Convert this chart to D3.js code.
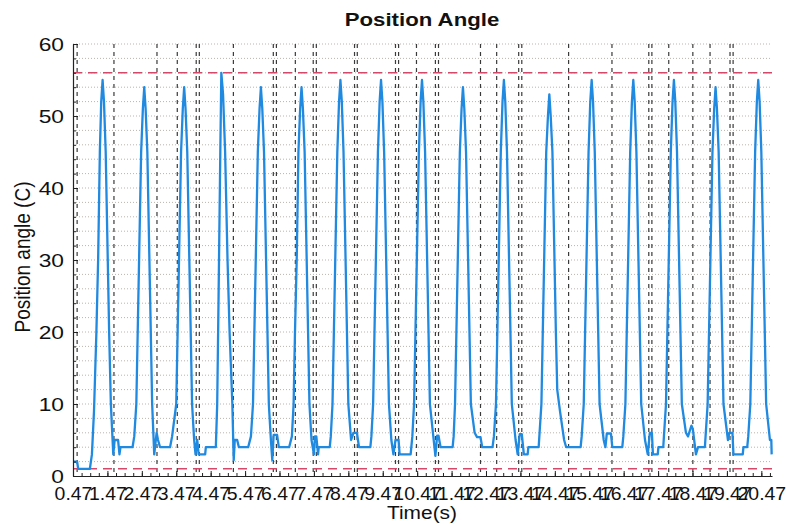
<!DOCTYPE html>
<html>
<head>
<meta charset="utf-8">
<script src="https://cdn.jsdelivr.net/npm/d3@7"></script>
<style>
  html, body { margin: 0; padding: 0; background: #fff; }
  svg { display: block; }
  text { font-family: "Liberation Sans", Arial, Helvetica, sans-serif; fill: #111; }
</style>
</head>
<body>
<svg id="chart" width="786" height="524"></svg>
<script>
// Position angle trace: [time (s), angle (C)]
const angleTrace = [
  [0.47,2],[0.59,2],[0.62,1],[0.96,1],[1.02,3],[1.08,9],[1.15,20],[1.20,30],[1.25,45],[1.29,52],[1.33,55],[1.37,52],[1.42,45],[1.48,30],[1.52,20],[1.57,10],[1.62,5],
  [1.64,3],[1.68,5],[1.78,5],[1.82,3],[1.85,4],[2.20,4],[2.25,5.5],
  [2.31,10],[2.35,20],[2.39,30],[2.45,45],[2.50,51],[2.54,54],[2.58,51],[2.63,45],[2.69,30],[2.73,20],[2.77,10],
  [2.83,3],[2.90,6],[2.94,5],[3.00,4],[3.29,4],[3.35,5.5],
  [3.47,10],[3.51,20],[3.55,30],[3.61,45],[3.66,51],[3.70,54],[3.74,51],[3.79,45],[3.85,30],[3.89,20],[3.93,10],
  [3.99,5],[4.03,3],[4.08,5],[4.12,3],[4.31,3],[4.33,4],[4.62,4],
  [4.66,10],[4.70,25],[4.75,45],[4.78,56],[4.83,53],[4.89,45],[4.96,30],[5.02,20],[5.10,10],[5.13,4],[5.14,2.2],[5.17,5],[5.24,5],[5.29,4],[5.56,4],[5.64,5.5],
  [5.70,10],[5.74,20],[5.78,30],[5.84,45],[5.89,51],[5.93,54],[5.97,51],[6.02,45],[6.08,30],[6.12,20],[6.16,10],
  [6.22,5],[6.26,2.2],[6.30,5.7],[6.40,5.7],[6.45,4],[6.75,4],[6.83,5.5],
  [6.88,10],[6.92,20],[6.97,30],[7.02,45],[7.07,51],[7.11,54],[7.15,51],[7.20,45],[7.26,30],[7.30,20],[7.34,10],
  [7.40,5],[7.47,3],[7.50,5.5],[7.54,5.5],[7.59,3],[7.61,4],[7.93,4],[7.96,5.5],
  [8.01,10],[8.05,20],[8.09,30],[8.15,45],[8.20,52],[8.24,55],[8.28,52],[8.33,45],[8.39,30],[8.43,20],[8.47,10],
  [8.55,5],[8.62,6],[8.72,6],[8.75,5],[8.78,4],[9.11,4],[9.14,5.5],
  [9.19,10],[9.23,20],[9.27,30],[9.33,45],[9.38,52],[9.42,55],[9.46,52],[9.51,45],[9.57,30],[9.61,20],[9.65,10],
  [9.72,5],[9.78,3],[9.84,5],[9.93,5],[9.96,3],[10.28,3],[10.30,4],[10.33,5.5],
  [10.38,10],[10.42,20],[10.46,30],[10.52,45],[10.57,52],[10.61,55],[10.65,52],[10.70,45],[10.76,30],[10.80,20],[10.84,10],
  [10.95,5],[11.00,2.8],[11.05,5.6],[11.09,5.6],[11.15,4],[11.50,4],[11.53,5.5],
  [11.57,10],[11.61,20],[11.65,30],[11.71,45],[11.76,51],[11.80,54],[11.84,51],[11.89,45],[11.95,30],[11.99,20],[12.03,10],
  [12.14,6],[12.21,5.4],[12.31,5.4],[12.36,4],[12.66,4],[12.70,5.5],
  [12.76,10],[12.80,20],[12.84,30],[12.90,45],[12.95,52],[12.99,55],[13.03,52],[13.08,45],[13.14,30],[13.18,20],[13.22,10],
  [13.33,5],[13.39,3],[13.45,5.8],[13.51,5.8],[13.57,3],[13.68,3],[13.70,4],[14.00,4],[14.02,5.5],
  [14.08,10],[14.12,20],[14.16,30],[14.22,45],[14.27,50],[14.31,53],[14.35,50],[14.40,45],[14.46,30],[14.50,20],[14.54,12],[14.62,9],[14.68,7],[14.74,5],[14.80,4],[15.22,4],[15.25,5.5],
  [15.31,10],[15.35,20],[15.39,30],[15.45,45],[15.50,52],[15.54,55],[15.58,52],[15.63,45],[15.69,30],[15.73,20],[15.77,10],
  [15.89,5],[15.94,4],[15.98,5.9],[16.10,5.9],[16.14,4],[16.43,4],[16.46,5.5],
  [16.52,10],[16.56,20],[16.60,30],[16.66,45],[16.71,52],[16.75,55],[16.79,52],[16.84,45],[16.90,30],[16.94,20],[16.98,10],
  [17.09,5],[17.17,3],[17.23,6],[17.29,6],[17.32,3],[17.46,3],[17.48,4],[17.62,4],[17.64,5.5],
  [17.70,10],[17.74,20],[17.78,30],[17.84,45],[17.89,52],[17.93,55],[17.97,52],[18.02,45],[18.08,30],[18.12,20],[18.16,10],
  [18.28,6],[18.34,5.5],[18.44,7],[18.48,6.5],[18.57,3],[18.63,4],[18.83,4],[18.85,5.5],
  [18.91,10],[18.95,20],[18.99,30],[19.05,45],[19.10,51],[19.14,54],[19.18,51],[19.23,45],[19.29,30],[19.33,20],[19.37,10],
  [19.50,5],[19.54,6],[19.63,6],[19.66,3],[19.93,3],[19.95,4],[20.06,4],[20.09,5.5],
  [20.15,10],[20.19,20],[20.23,30],[20.29,45],[20.34,52],[20.38,55],[20.42,52],[20.47,45],[20.53,30],[20.57,20],[20.61,10],
  [20.72,5],[20.76,5],[20.77,3]
];

// Event markers (s)
const eventTimes = [0.59, 1.66, 2.91, 3.50, 4.05, 4.14, 5.13, 6.29, 6.38, 6.93, 7.45, 7.54,
  8.65, 8.73, 9.84, 9.93, 10.45, 11.00, 11.09, 12.31, 12.78, 13.42, 13.51, 14.87,
  16.13, 17.20, 17.29, 17.78, 18.48, 18.98, 19.56, 19.65];

// Upper and lower limit lines (C)
const limitLevels = [56, 1];

// Axis ticks
const xTickValues = [0.47, 1.47, 2.47, 3.47, 4.47, 5.47, 6.47, 7.47, 8.47, 9.47, 10.47,
  11.47, 12.47, 13.47, 14.47, 15.47, 16.47, 17.47, 18.47, 19.47, 20.47];
const yTickValues = [0, 10, 20, 30, 40, 50, 60];
const xDomain = [0.47, 20.78];
const yDomain = [0, 60];

const svg = d3.select("#chart");
const x = d3.scaleLinear().domain(xDomain).range([73, 772]);
const y = d3.scaleLinear().domain(yDomain).range([476, 44]);

// horizontal dotted grid every 2 units
svg.append("g")
  .selectAll("line")
  .data(d3.range(yDomain[0] + 2, yDomain[1] + 1, 2))
  .join("line")
  .attr("x1", x.range()[0]).attr("x2", x.range()[1])
  .attr("y1", d => y(d)).attr("y2", d => y(d))
  .attr("stroke", "#b9b4ae").attr("stroke-width", 1)
  .attr("stroke-dasharray", "1,2");

// event markers
svg.append("g")
  .selectAll("line")
  .data(eventTimes)
  .join("line")
  .attr("x1", d => x(d)).attr("x2", d => x(d))
  .attr("y1", y(yDomain[1])).attr("y2", y(yDomain[0]))
  .attr("stroke", "#3a3a3a").attr("stroke-width", 1.2)
  .attr("stroke-dasharray", "4,4");

// limit lines
svg.append("g")
  .selectAll("line")
  .data(limitLevels)
  .join("line")
  .attr("x1", x.range()[0]).attr("x2", x.range()[1])
  .attr("y1", d => y(d)).attr("y2", d => y(d))
  .attr("stroke", "#d4496a").attr("stroke-width", 1.5)
  .attr("stroke-dasharray", "9,6");

// signal
svg.append("path")
  .datum(angleTrace)
  .attr("fill", "none")
  .attr("stroke", "#2089e0")
  .attr("stroke-width", 2.3)
  .attr("stroke-linejoin", "round")
  .attr("d", d3.line().x(d => x(d[0])).y(d => y(d[1])));

// axes
const axisColor = "#222";
const sxTick = 1.08;

const gxMinor = svg.append("g").attr("transform", `translate(0,${y(0)})`)
  .call(d3.axisBottom(x).tickValues(d3.range(0.72, 20.78, 0.25)).tickFormat("").tickSizeInner(-3).tickSizeOuter(0));
gxMinor.select(".domain").remove();
gxMinor.selectAll("line").attr("stroke", axisColor);

const gx = svg.append("g").attr("transform", `translate(0,${y(0)})`)
  .call(d3.axisBottom(x).tickValues(xTickValues).tickFormat(d3.format(".2f")).tickSizeInner(-5).tickSizeOuter(0));
gx.select(".domain").attr("stroke", axisColor).attr("stroke-width", 1.2);
gx.selectAll("line").attr("stroke", axisColor);
gx.selectAll("text")
  .attr("y", 24).attr("dy", null)
  .attr("font-size", 18)
  .attr("fill", "#111")
  .attr("transform", `scale(${sxTick},1)`);

const gyMinor = svg.append("g").attr("transform", `translate(${x.range()[0]},0)`)
  .call(d3.axisLeft(y).tickValues(d3.range(2, 60, 2)).tickFormat("").tickSizeInner(-3).tickSizeOuter(0));
gyMinor.select(".domain").remove();
gyMinor.selectAll("line").attr("stroke", axisColor);

const gy = svg.append("g").attr("transform", `translate(${x.range()[0]},0)`)
  .call(d3.axisLeft(y).tickValues(yTickValues).tickSizeInner(-5).tickSizeOuter(0));
gy.select(".domain").attr("stroke", axisColor).attr("stroke-width", 1.2);
gy.selectAll("line").attr("stroke", axisColor);
gy.selectAll("text")
  .attr("x", -9 / 1.2).attr("dy", "0.36em")
  .attr("font-size", 19)
  .attr("fill", "#111")
  .attr("transform", "scale(1.2,1)");

// titles
svg.append("text")
  .attr("transform", "translate(422,26) scale(1.2,1)")
  .attr("text-anchor", "middle")
  .attr("font-size", 18.5)
  .attr("font-weight", "bold")
  .text("Position Angle");

svg.append("text")
  .attr("transform", "translate(422,519) scale(1.1,1)")
  .attr("text-anchor", "middle")
  .attr("font-size", 19)
  .text("Time(s)");

svg.append("text")
  .attr("transform", "translate(30,257) rotate(-90) scale(1,1.2)")
  .attr("text-anchor", "middle")
  .attr("font-size", 19)
  .text("Position angle (C)");
</script>
</body>
</html>
